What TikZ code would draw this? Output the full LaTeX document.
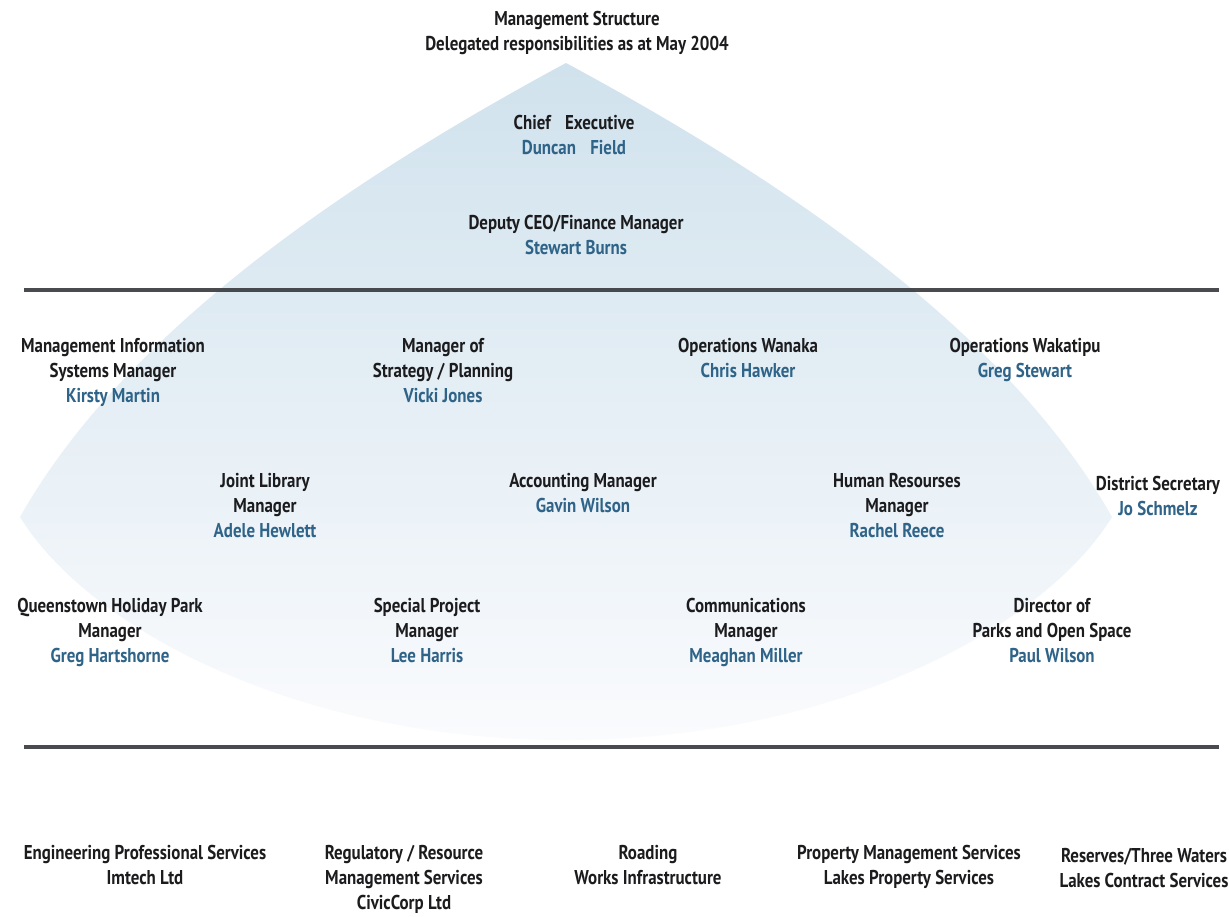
\documentclass[tikz,border=0pt]{standalone}
\usepackage{fontspec}
\setmainfont{PT Sans}[FakeStretch=0.845]
\definecolor{txt}{RGB}{28,28,30}
\definecolor{nm}{RGB}{47,100,136}
\definecolor{shTop}{RGB}{208,226,237}
\definecolor{shMid}{RGB}{228,237,243}
\definecolor{shBot}{RGB}{250,251,253}
\definecolor{rulecol}{RGB}{58,60,63}
\newcommand\nm[1]{\textcolor{nm}{#1}}
\begin{document}
\begin{tikzpicture}[x=1pt,y=-1pt,
  every node/.style={inner sep=0pt, align=center, anchor=north,
    font=\fontsize{20}{25}\selectfont\bfseries, text=txt},
  rulebar/.style={draw=rulecol, line width=3.5pt, opacity=0.92}]
\useasboundingbox (0,0) rectangle (1229,916);
\fill[white] (0,0) rectangle (1229,916);

% pale blue pennant behind the management levels (symmetric about x = 566)
\shade[top color=shTop, middle color=shMid, bottom color=shBot]
  (566,63) .. controls (330,190) and (120,340) .. (20,517)
  .. controls (90,630) and (300,740) .. (566,740)
  .. controls (832,740) and (1042,630) .. (1112,517)
  .. controls (1012,340) and (802,190) .. (566,63) -- cycle;

% horizontal rules separating the tiers
\coordinate (r1a) at (24,290);   \coordinate (r1b) at (1219,290);
\coordinate (r2a) at (24,747);   \coordinate (r2b) at (1219,747);
\draw[rulebar] (r1a) -- (r1b);
\draw[rulebar] (r2a) -- (r2b);

% heading
\node (title) at (577,7.5) {\strut Management Structure\\
  \strut Delegated responsibilities as at May 2004};

% top tier
\node (ceo) at (574,111.5) {\strut Chief\hspace{0.5em} Executive\\
  \strut\nm{Duncan\hspace{0.5em} Field}};
\node (dep) at (576,211.5) {\strut Deputy CEO/Finance Manager\\
  \strut\nm{Stewart Burns}};

% second tier, first row
\node (mis) at (113,334.5) {\strut Management Information\\
  \strut Systems Manager\\ \strut\nm{Kirsty Martin}};
\node (strat) at (443,334.5) {\strut Manager of\\
  \strut Strategy / Planning\\ \strut\nm{Vicki Jones}};
\node (wan) at (748,334.5) {\strut Operations Wanaka\\
  \strut\nm{Chris Hawker}};
\node (wak) at (1025,334.5) {\strut Operations Wakatipu\\
  \strut\nm{Greg Stewart}};

% second tier, second row
\node (lib) at (265,469.5) {\strut Joint Library\\
  \strut Manager\\ \strut\nm{Adele Hewlett}};
\node (acc) at (583,469.5) {\strut Accounting Manager\\
  \strut\nm{Gavin Wilson}};
\node (hr) at (897,469.5) {\strut Human Resourses\\
  \strut Manager\\ \strut\nm{Rachel Reece}};
\node (sec) at (1158,472.5) {\strut District Secretary\\
  \strut\nm{Jo Schmelz}};

% second tier, third row
\node (qhp) at (110,594.5) {\strut Queenstown Holiday Park\\
  \strut Manager\\ \strut\nm{Greg Hartshorne}};
\node (spm) at (427,594.5) {\strut Special Project\\
  \strut Manager\\ \strut\nm{Lee Harris}};
\node (com) at (746,594.5) {\strut Communications\\
  \strut Manager\\ \strut\nm{Meaghan Miller}};
\node (dir) at (1052,594.5) {\strut Director of\\
  \strut Parks and Open Space\\ \strut\nm{Paul Wilson}};

% contracted services
\node (eng) at (145,841.5) {\strut Engineering Professional Services\\
  \strut Imtech Ltd};
\node (reg) at (404,841.5) {\strut Regulatory / Resource\\
  \strut Management Services\\ \strut CivicCorp Ltd};
\node (road) at (648,841.5) {\strut Roading\\
  \strut Works Infrastructure};
\node (prop) at (909,841.5) {\strut Property Management Services\\
  \strut Lakes Property Services};
\node (res) at (1144,844.5) {\strut Reserves/Three Waters\\
  \strut Lakes Contract Services};
\end{tikzpicture}
\end{document}
